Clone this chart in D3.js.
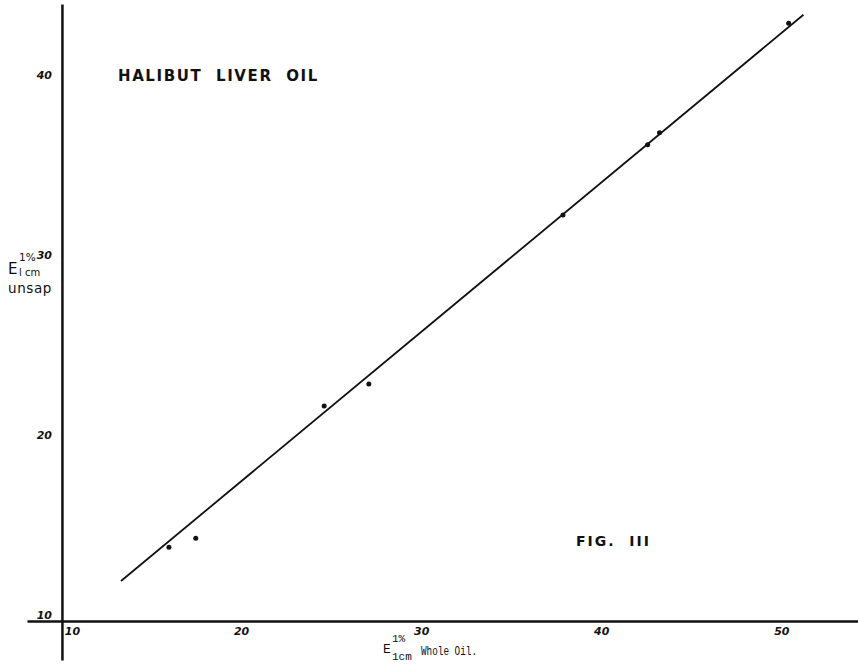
<!DOCTYPE html>
<html>
<head>
<meta charset="utf-8">
<script src="https://cdn.jsdelivr.net/npm/d3@7"></script>
<style>
  body { margin: 0; background: #fff; }
  svg { display: block; }
  .tick text { font-family: "DejaVu Sans", sans-serif; font-style: italic; font-weight: bold; font-size: 11px; fill: #111; }
  .mono { font-family: "Liberation Mono", "DejaVu Sans Mono", monospace; fill: #111; }
  .sans { font-family: "DejaVu Sans", sans-serif; fill: #111; }
</style>
</head>
<body>
<script>
// Data (E 1% 1cm whole oil vs unsaponifiable)
const wholeOil = [15.94, 17.43, 24.56, 27.04, 37.82, 42.52, 43.18, 50.35];
const unsap    = [14.09, 14.59, 21.94, 23.17, 32.56, 36.46, 37.13, 43.21];
const fitX = [13.28, 51.17];
const fitY = [12.22, 43.68];
const xTicks = [10, 20, 30, 40, 50];
const yTicks = [10, 20, 30, 40];
const title = "HALIBUT  LIVER  OIL";
const figLabel = "FIG.  III";

const W = 858, H = 667;
const svg = d3.select("body").append("svg").attr("width", W).attr("height", H);

const x = d3.scaleLinear().domain([8.06, 54.2]).range([27, 858]);
const y = d3.scaleLinear().domain([7.83, 44.28]).range([660, 4]);

// X axis (crosses at y = 10)
const xAxis = svg.append("g")
  .attr("transform", `translate(0,${y(10)})`)
  .call(d3.axisBottom(x).tickValues(xTicks).tickSize(0).tickSizeOuter(0).tickPadding(6));
xAxis.select(".domain").attr("stroke", "#111").attr("stroke-width", 2.5);
xAxis.selectAll(".tick text").attr("dx", (d, i) => i === 0 ? 10 : -1);

// Y axis (crosses at x = 10)
const yAxis = svg.append("g")
  .attr("transform", `translate(${x(10)},0)`)
  .call(d3.axisLeft(y).tickValues(yTicks).tickSize(0).tickSizeOuter(0).tickPadding(10));
yAxis.select(".domain").attr("stroke", "#111").attr("stroke-width", 2.5);
yAxis.selectAll(".tick text").attr("dy", "-0.25em");

// Fitted line
svg.append("line")
  .attr("x1", x(fitX[0])).attr("y1", y(fitY[0]))
  .attr("x2", x(fitX[1])).attr("y2", y(fitY[1]))
  .attr("stroke", "#111").attr("stroke-width", 1.8);

// Points
svg.selectAll("circle.pt")
  .data(wholeOil.map((v, i) => [v, unsap[i]]))
  .join("circle")
  .attr("class", "pt")
  .attr("cx", d => x(d[0])).attr("cy", d => y(d[1]))
  .attr("r", 2.5).attr("fill", "#111");

// Title
svg.append("text")
  .attr("x", 118).attr("y", 81)
  .attr("font-family", "'DejaVu Sans', sans-serif")
  .attr("font-weight", "bold").attr("font-size", 15)
  .attr("letter-spacing", 1.6).attr("fill", "#111")
  .style("white-space", "pre")
  .text(title);

// Figure label
svg.append("text")
  .attr("x", 576).attr("y", 546)
  .attr("font-family", "'DejaVu Sans', sans-serif")
  .attr("font-weight", "bold").attr("font-size", 14)
  .attr("letter-spacing", 2).attr("fill", "#111")
  .style("white-space", "pre")
  .text(figLabel);

// Y axis label: E 1% / 1cm / unsap
const yl = svg.append("g");
yl.append("text").attr("class", "sans").attr("x", 8).attr("y", 274).attr("font-size", 15).text("E");
yl.append("text").attr("class", "sans").attr("x", 19).attr("y", 261).attr("font-size", 10.5).text("1%");
yl.append("text").attr("class", "sans").attr("x", 19).attr("y", 276).attr("font-size", 10).text("l cm");
yl.append("text").attr("class", "sans").attr("x", 8).attr("y", 293).attr("font-size", 13.5).attr("letter-spacing", 0.6).text("unsap");

// X axis label: E 1% 1cm Whole Oil.
const xl = svg.append("g");
xl.append("text").attr("class", "mono").attr("x", 383).attr("y", 653).attr("font-size", 13).text("E");
xl.append("text").attr("class", "mono").attr("x", 392).attr("y", 642).attr("font-size", 11).text("1%");
xl.append("text").attr("class", "mono").attr("x", 392).attr("y", 660).attr("font-size", 11).text("1cm");
xl.append("text").attr("class", "mono").attr("x", 421).attr("y", 655).attr("font-size", 12)
  .attr("textLength", 56).attr("lengthAdjust", "spacingAndGlyphs").text("Whole Oil.");
</script>
</body>
</html>
